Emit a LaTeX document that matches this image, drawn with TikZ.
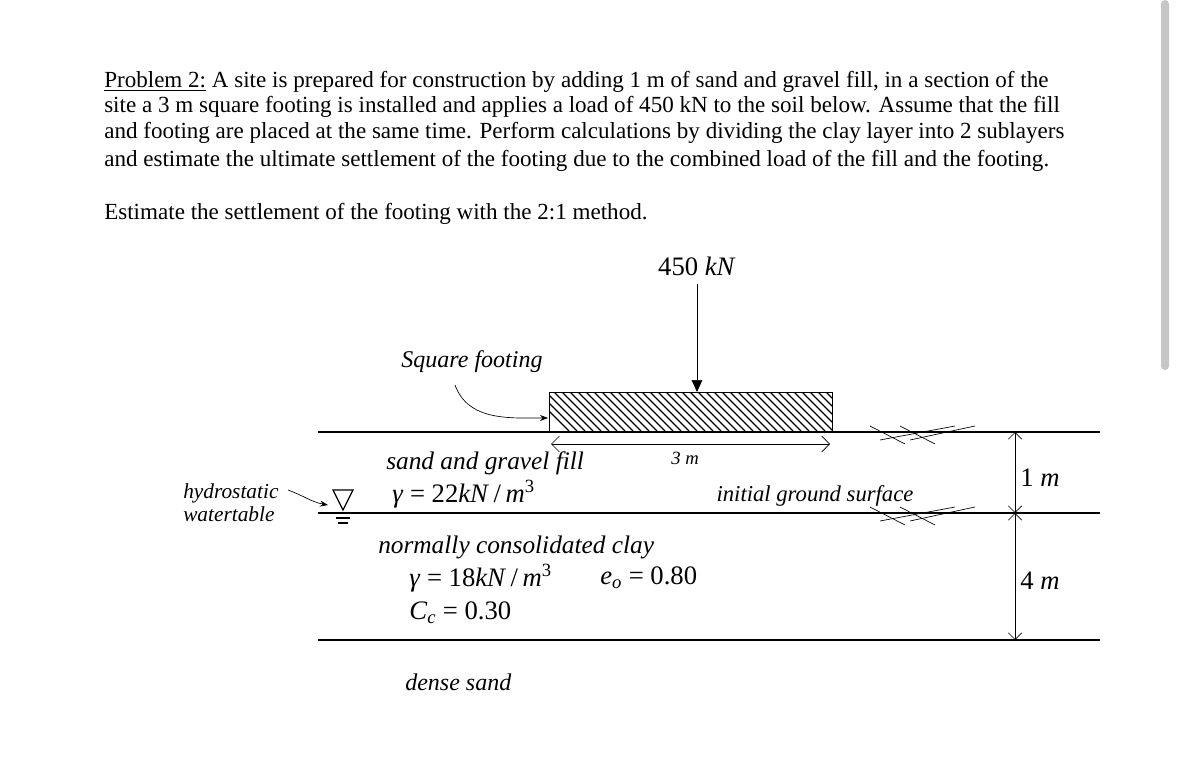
\documentclass[tikz,border=0pt]{standalone}
\usepackage{fontspec}
\setmainfont{Liberation Serif}
\usetikzlibrary{arrows.meta}
\newcommand{\mi}[1]{\textit{#1}}
\begin{document}
\begin{tikzpicture}[x=0.75pt,y=-0.75pt,
  para/.style={anchor=west,inner sep=0,font=\fontsize{17.3}{20}\selectfont},
  lbl/.style={inner sep=0,font=\fontsize{18}{20}\selectfont\itshape},
  mth/.style={inner sep=0,font=\fontsize{20}{22}\selectfont},
  gl/.style={line width=1.1pt},
  thin/.style={line width=0.5pt}]
\useasboundingbox (0,0) rectangle (1179,781);
\fill[gray!45,rounded corners=3pt] (1161,0) rectangle (1169,370);
\node[para] (p1) at (104,82) {\underline{Problem 2:} A site is prepared for construction by adding 1 m of sand and gravel fill, in a section of the};
\node[para] (p2) at (104,107) {site a 3 m square footing is installed and applies a load of 450 kN to the soil below. Assume that the fill};
\node[para] (p3) at (104,133) {and footing are placed at the same time. Perform calculations by dividing the clay layer into 2 sublayers};
\node[para] (p4) at (104,161) {and estimate the ultimate settlement of the footing due to the combined load of the fill and the footing.};
\node[para] (p5) at (104,214) {Estimate the settlement of the footing with the 2:1 method.};
% ground lines
\coordinate (g1a) at (318,432); \coordinate (g1b) at (1100,432);
\coordinate (g2a) at (318,513); \coordinate (g2b) at (1100,513);
\coordinate (g3a) at (318,640); \coordinate (g3b) at (1100,640);
\draw[gl] (g1a)--(g1b); \draw[gl] (g2a)--(g2b); \draw[gl] (g3a)--(g3b);
% footing
\coordinate (fttop) at (697,392);
\begin{scope}
\clip (549,392) rectangle (832,431);
\foreach \i in {530,538,...,840} \draw[line width=0.9pt] (\i,392)--(\i+39,431);
\end{scope}
\draw[thin] (549,392) rectangle (832,431);
% load
\node[mth] (load) at (697,266) {450 \mi{kN}};
\draw[thin,-{Triangle[length=9pt,width=8pt]}] (697,284)--(fttop);
% square footing label
\node[lbl] (sf) at (472,362) {Square footing};
\draw[thin,-{Stealth[length=6pt]}] (455,385) to[out=-70,in=180] (548,418);
% 3 m
\coordinate (d1) at (551,444); \coordinate (d2) at (830,444);
\draw[thin,{Straight Barb[length=6pt]}-{Straight Barb[length=6pt]}] (d1)--(d2);
\node[lbl,font=\fontsize{14}{16}\selectfont\itshape] (tm) at (685,458) {3 m};
% ground marks
\foreach \y in {432,513}{
 \draw[thin] (870,\y-6)--(905,\y+12);
 \draw[thin] (900,\y-6)--(935,\y+12);
 \draw[thin] (880,\y+8)--(955,\y-6);
 \draw[thin] (910,\y+8)--(975,\y-6);
}
% dimensions
\coordinate (v1) at (1015,432); \coordinate (v2) at (1015,513); \coordinate (v3) at (1015,640);
\draw[thin,{Straight Barb[length=5pt]}-{Straight Barb[length=5pt]}] (v1)--(v2);
\draw[thin,{Straight Barb[length=5pt]}-{Straight Barb[length=5pt]}] (v2)--(v3);
\node[mth,anchor=west] (m1) at (1020,478) {1 \mi{m}};
\node[mth,anchor=west] (m4) at (1020,581) {4 \mi{m}};
% water table
\draw[line width=1pt] (333,490)--(353,490)--(343,510)--cycle;
\draw[line width=0.9pt] (336,518)--(350,518); \draw[line width=0.9pt] (338,523)--(348,523);
\node[lbl,align=left,anchor=west,font=\fontsize{16}{17.5}\selectfont\itshape] (hw) at (183,503) {hydrostatic\\watertable};
\draw[thin,-{Stealth[length=6pt]}] (288,490) to[out=-20,in=170] (328,505);
% labels
\node[lbl,anchor=west,font=\fontsize{19}{20}\selectfont\itshape] (sg) at (386,463) {sand and gravel fill};
\node[mth,anchor=west] (g22) at (392,494) {\mi{γ} = 22\mi{kN}\,/\,\mi{m}\textsuperscript{3}};
\node[lbl,font=\fontsize{17}{20}\selectfont\itshape] (igs) at (815,496) {initial ground surface};
\node[lbl,anchor=west,font=\fontsize{19}{20}\selectfont\itshape] (ncc) at (378,547) {normally consolidated clay};
\node[mth,anchor=west] (g18) at (409,578) {\mi{γ} = 18\mi{kN}\,/\,\mi{m}\textsuperscript{3}};
\node[mth,anchor=west] (eo) at (600,578) {\mi{e}\textsubscript{\mi{o}} = 0.80};
\node[mth,anchor=west] (cc) at (409,613) {\mi{C}\textsubscript{\mi{c}} = 0.30};
\node[lbl,anchor=west] (ds) at (405,682) {dense sand};
\end{tikzpicture}
\end{document}
